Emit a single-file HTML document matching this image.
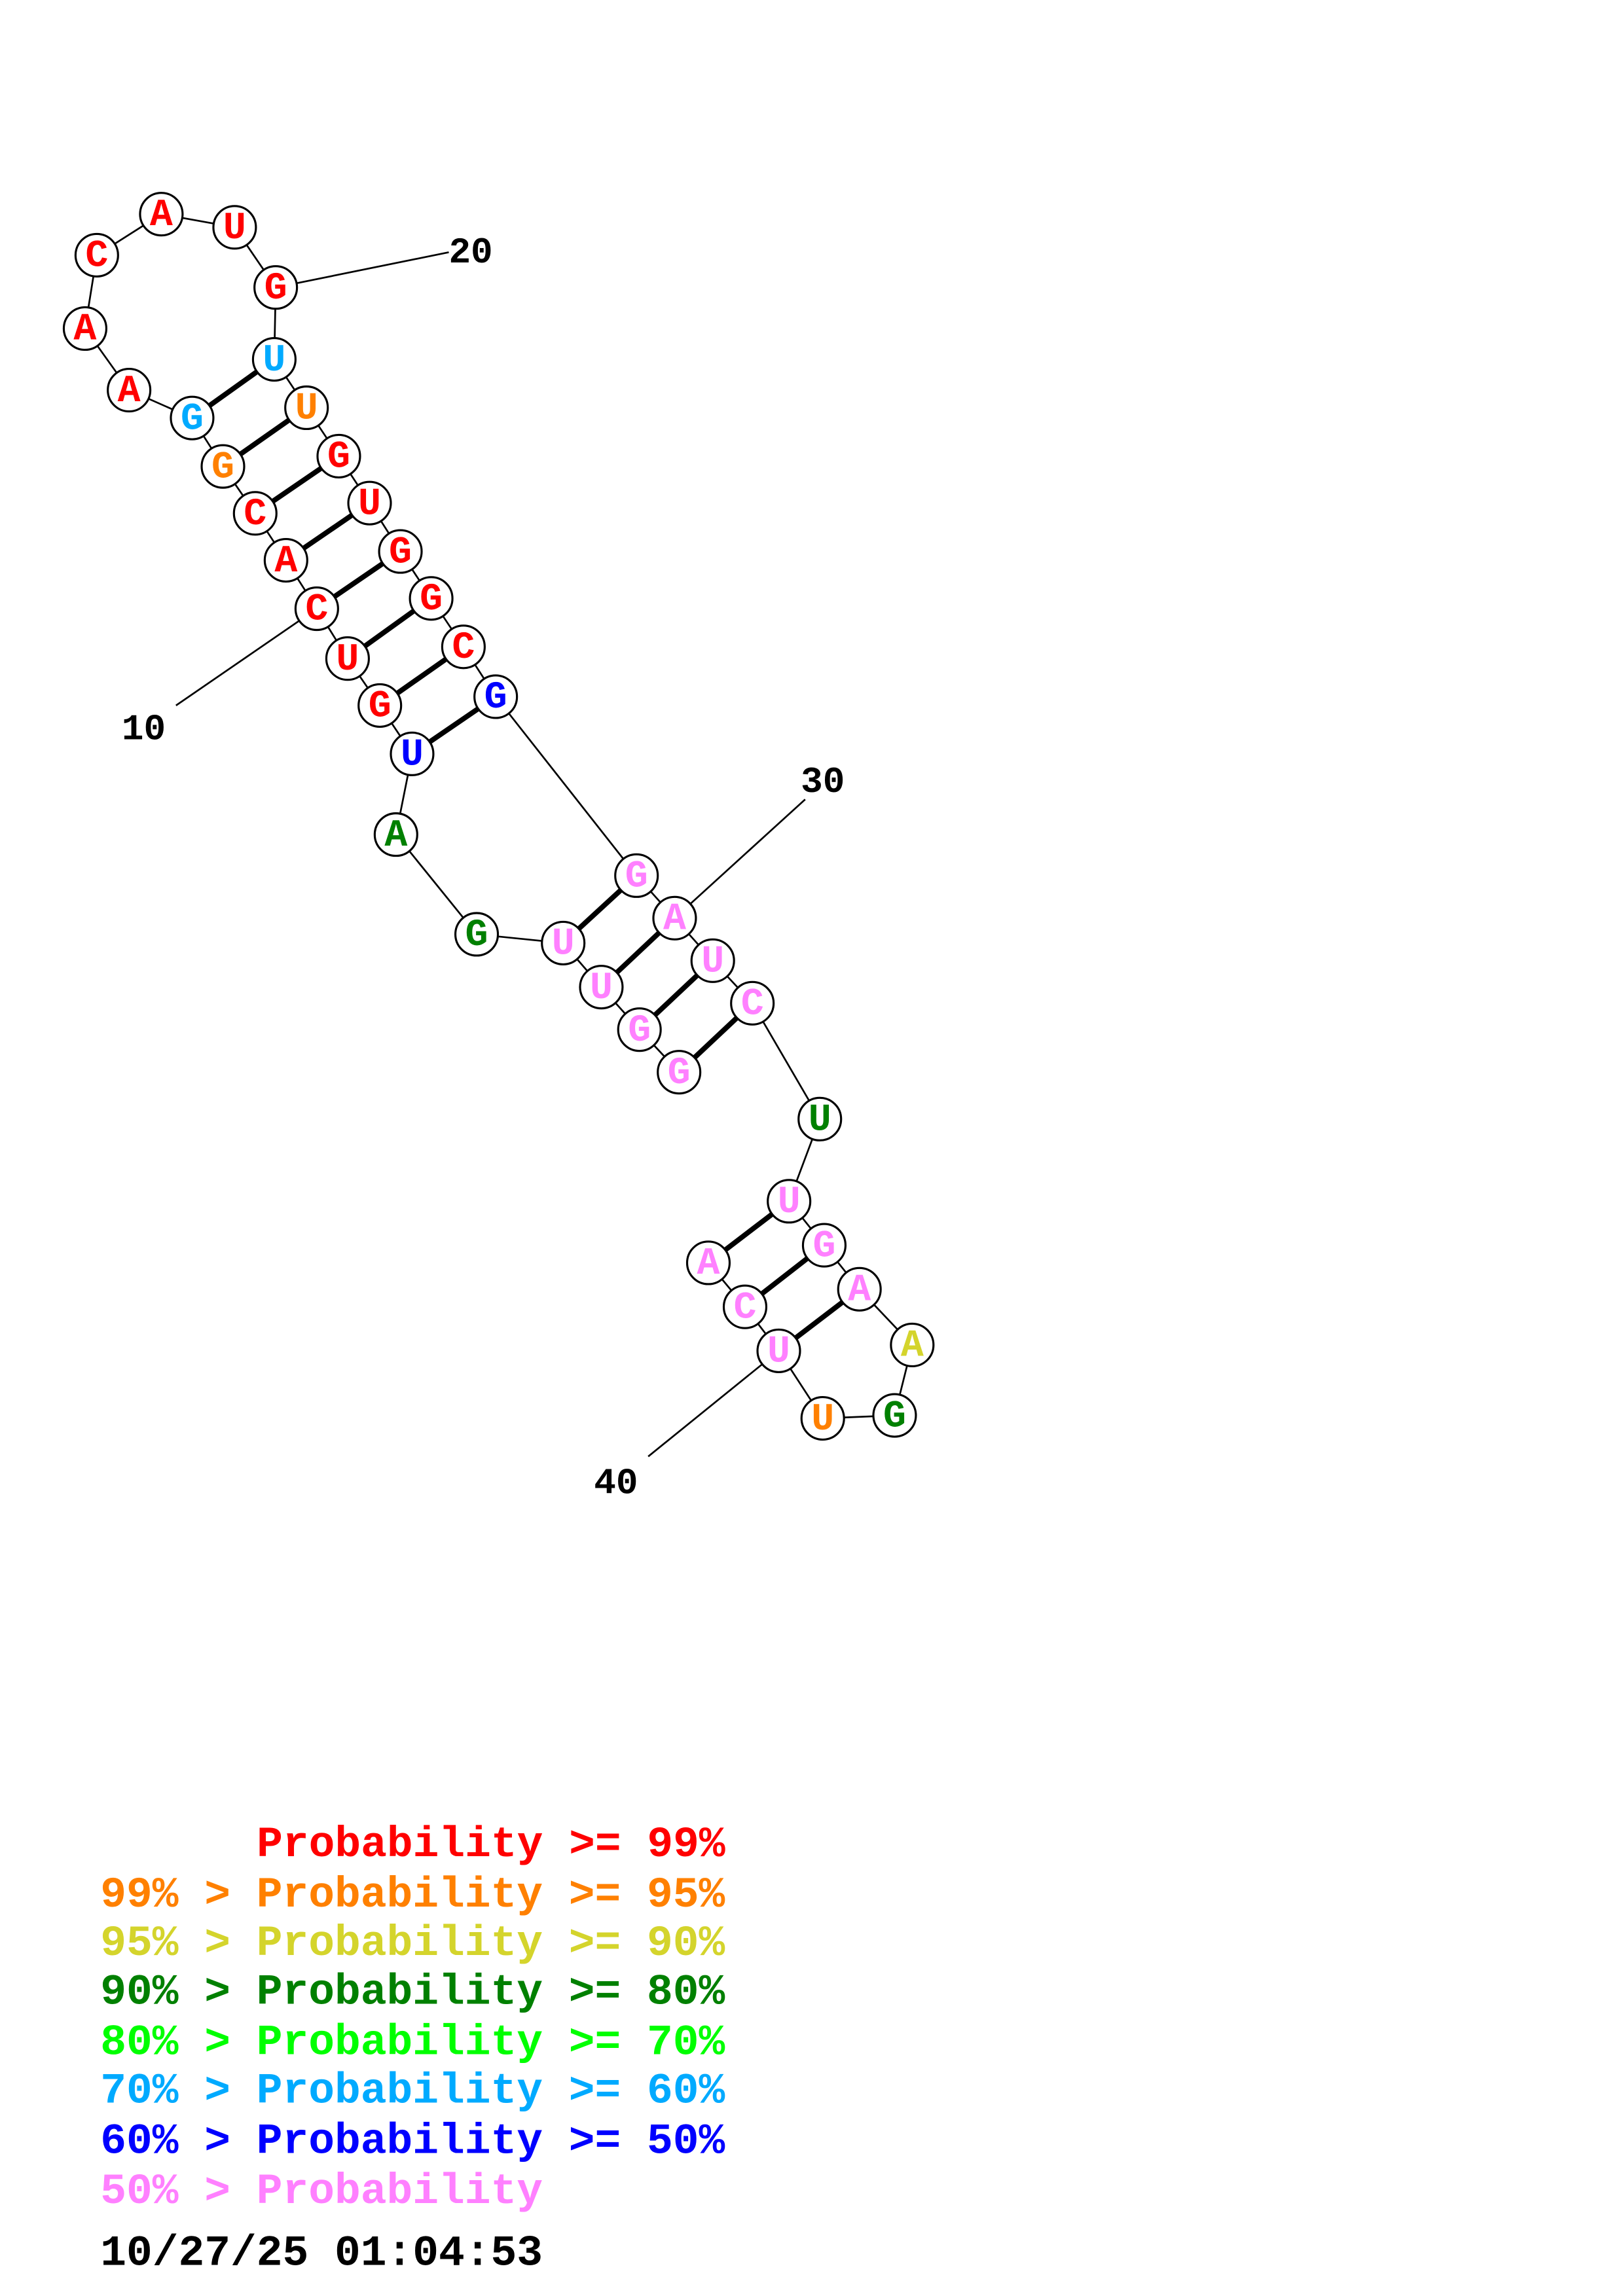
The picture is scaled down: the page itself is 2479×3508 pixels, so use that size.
<!DOCTYPE html>
<html><head><meta charset="utf-8"><style>html,body{margin:0;padding:0;background:#fff}svg{display:block}</style></head>
<body>
<svg xmlns="http://www.w3.org/2000/svg" width="2479" height="3508" viewBox="0 0 1100 1556" preserveAspectRatio="none">
<rect width="1100" height="1556" fill="#fff"/>
<g transform="scale(0.994)">
<g stroke="#000" stroke-width="1.2" fill="none">
<polyline points="463,731 436,702 410,673 384,643 325,637 270,569 281,514 259,481 237,449 216,415 195,382 174,350 152,318 131,285 88,266 58,224 66,174 110,146 160,155 188,196 187,245 209,278 231,311 252,343 273,376 294,408 316,441 338,475 434,597 460,626 486,655 513,684 559,763 538,819 562,849 586,879 622,917 610,965 561,967 531,921 508,891 483,861"/>
<line x1="216" y1="415" x2="120" y2="481"/>
<line x1="188" y1="196" x2="306" y2="172"/>
<line x1="460" y1="626" x2="549" y2="545"/>
<line x1="531" y1="921" x2="442" y2="993"/>
</g>
<g stroke="#000" stroke-width="3.5">
<line x1="463" y1="731" x2="513" y2="684"/>
<line x1="436" y1="702" x2="486" y2="655"/>
<line x1="410" y1="673" x2="460" y2="626"/>
<line x1="384" y1="643" x2="434" y2="597"/>
<line x1="281" y1="514" x2="338" y2="475"/>
<line x1="259" y1="481" x2="316" y2="441"/>
<line x1="237" y1="449" x2="294" y2="408"/>
<line x1="216" y1="415" x2="273" y2="376"/>
<line x1="195" y1="382" x2="252" y2="343"/>
<line x1="174" y1="350" x2="231" y2="311"/>
<line x1="152" y1="318" x2="209" y2="278"/>
<line x1="131" y1="285" x2="187" y2="245"/>
<line x1="538" y1="819" x2="483" y2="861"/>
<line x1="562" y1="849" x2="508" y2="891"/>
<line x1="586" y1="879" x2="531" y2="921"/>
</g>
<g fill="#fff" stroke="#000" stroke-width="1.4">
<circle cx="463" cy="731" r="14.5"/><circle cx="436" cy="702" r="14.5"/><circle cx="410" cy="673" r="14.5"/><circle cx="384" cy="643" r="14.5"/><circle cx="325" cy="637" r="14.5"/><circle cx="270" cy="569" r="14.5"/><circle cx="281" cy="514" r="14.5"/><circle cx="259" cy="481" r="14.5"/><circle cx="237" cy="449" r="14.5"/><circle cx="216" cy="415" r="14.5"/><circle cx="195" cy="382" r="14.5"/><circle cx="174" cy="350" r="14.5"/><circle cx="152" cy="318" r="14.5"/><circle cx="131" cy="285" r="14.5"/><circle cx="88" cy="266" r="14.5"/><circle cx="58" cy="224" r="14.5"/><circle cx="66" cy="174" r="14.5"/><circle cx="110" cy="146" r="14.5"/><circle cx="160" cy="155" r="14.5"/><circle cx="188" cy="196" r="14.5"/><circle cx="187" cy="245" r="14.5"/><circle cx="209" cy="278" r="14.5"/><circle cx="231" cy="311" r="14.5"/><circle cx="252" cy="343" r="14.5"/><circle cx="273" cy="376" r="14.5"/><circle cx="294" cy="408" r="14.5"/><circle cx="316" cy="441" r="14.5"/><circle cx="338" cy="475" r="14.5"/><circle cx="434" cy="597" r="14.5"/><circle cx="460" cy="626" r="14.5"/><circle cx="486" cy="655" r="14.5"/><circle cx="513" cy="684" r="14.5"/><circle cx="559" cy="763" r="14.5"/><circle cx="538" cy="819" r="14.5"/><circle cx="562" cy="849" r="14.5"/><circle cx="586" cy="879" r="14.5"/><circle cx="622" cy="917" r="14.5"/><circle cx="610" cy="965" r="14.5"/><circle cx="561" cy="967" r="14.5"/><circle cx="531" cy="921" r="14.5"/><circle cx="508" cy="891" r="14.5"/><circle cx="483" cy="861" r="14.5"/>
</g>
<g font-family="'Liberation Mono', monospace" font-weight="bold" font-size="26" text-anchor="middle" dominant-baseline="central">
<text x="463" y="732" fill="#ff80ff">G</text><text x="436" y="703" fill="#ff80ff">G</text><text x="410" y="674" fill="#ff80ff">U</text><text x="384" y="644" fill="#ff80ff">U</text><text x="325" y="638" fill="#008000">G</text><text x="270" y="570" fill="#008000">A</text><text x="281" y="515" fill="#0000ff">U</text><text x="259" y="482" fill="#ff0000">G</text><text x="237" y="450" fill="#ff0000">U</text><text x="216" y="416" fill="#ff0000">C</text><text x="195" y="383" fill="#ff0000">A</text><text x="174" y="351" fill="#ff0000">C</text><text x="152" y="319" fill="#ff8000">G</text><text x="131" y="286" fill="#00aaff">G</text><text x="88" y="267" fill="#ff0000">A</text><text x="58" y="225" fill="#ff0000">A</text><text x="66" y="175" fill="#ff0000">C</text><text x="110" y="147" fill="#ff0000">A</text><text x="160" y="156" fill="#ff0000">U</text><text x="188" y="197" fill="#ff0000">G</text><text x="187" y="246" fill="#00aaff">U</text><text x="209" y="279" fill="#ff8000">U</text><text x="231" y="312" fill="#ff0000">G</text><text x="252" y="344" fill="#ff0000">U</text><text x="273" y="377" fill="#ff0000">G</text><text x="294" y="409" fill="#ff0000">G</text><text x="316" y="442" fill="#ff0000">C</text><text x="338" y="476" fill="#0000ff">G</text><text x="434" y="598" fill="#ff80ff">G</text><text x="460" y="627" fill="#ff80ff">A</text><text x="486" y="656" fill="#ff80ff">U</text><text x="513" y="685" fill="#ff80ff">C</text><text x="559" y="764" fill="#008000">U</text><text x="538" y="820" fill="#ff80ff">U</text><text x="562" y="850" fill="#ff80ff">G</text><text x="586" y="880" fill="#ff80ff">A</text><text x="622" y="918" fill="#d4d42c">A</text><text x="610" y="966" fill="#008000">G</text><text x="561" y="968" fill="#ff8000">U</text><text x="531" y="922" fill="#ff80ff">U</text><text x="508" y="892" fill="#ff80ff">C</text><text x="483" y="862" fill="#ff80ff">A</text>
</g>
<g font-family="'Liberation Mono', monospace" font-weight="bold" font-size="25" fill="#000">
<text x="83" y="504">10</text><text x="306" y="179">20</text><text x="546" y="540">30</text><text x="405" y="1018">40</text>
</g>
</g>
<g font-family="'Liberation Mono', monospace" font-weight="bold" font-size="29.4">
<text x="174" y="1258" fill="#ff0000">Probability &gt;= 99%</text>
<text x="68" y="1292" fill="#ff8000">99% &gt; Probability &gt;= 95%</text>
<text x="68" y="1325" fill="#d4d42c">95% &gt; Probability &gt;= 90%</text>
<text x="68" y="1358" fill="#008000">90% &gt; Probability &gt;= 80%</text>
<text x="68" y="1392" fill="#00ff00">80% &gt; Probability &gt;= 70%</text>
<text x="68" y="1425" fill="#00aaff">70% &gt; Probability &gt;= 60%</text>
<text x="68" y="1459" fill="#0000ff">60% &gt; Probability &gt;= 50%</text>
<text x="68" y="1493" fill="#ff80ff">50% &gt; Probability</text>
<text x="68" y="1535" fill="#000">10/27/25 01:04:53</text>
</g>
</svg>
</body></html>
